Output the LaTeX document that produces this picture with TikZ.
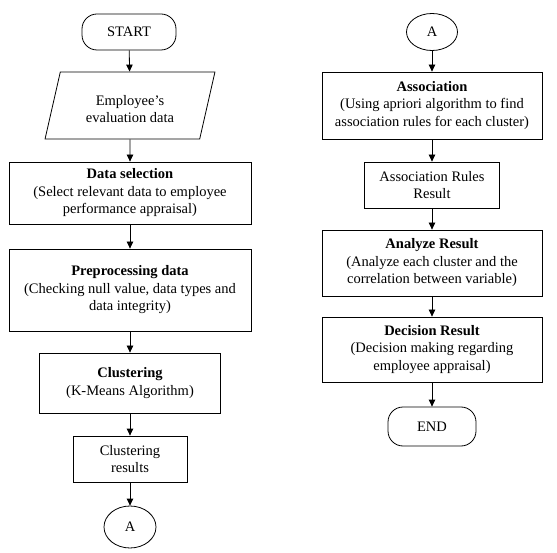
\documentclass[tikz,border=0pt]{standalone}
\usepackage{fontspec}
\setmainfont{Liberation Serif}
\usetikzlibrary{shapes.geometric,arrows.meta}
\begin{document}
\begin{tikzpicture}[x=1pt,y=1pt,
  every node/.style={font=\fontsize{14.5}{17.5}\selectfont, align=center, inner sep=2pt},
  box/.style={draw, line width=0.8pt, rectangle},
  term/.style={draw, line width=0.8pt, rectangle, rounded corners=15pt},
  conn/.style={draw, line width=0.8pt, ellipse, inner sep=0pt},
  io/.style={draw, line width=0.8pt, trapezium, trapezium left angle=75, trapezium right angle=105, trapezium stretches=true},
  flow/.style={line width=0.8pt, -{Triangle[length=7pt,width=6.5pt]}}
]
\useasboundingbox (0,0) rectangle (557,-553);
% left column
\node[term, minimum width=94pt, minimum height=36pt] (start) at (129,-32) {START};
\node[io, minimum width=170pt, minimum height=67pt] (data) at (130,-105.5) {\rule{0pt}{17pt}Employee’s\\[-1pt]evaluation data};
\node[box, minimum width=242pt, minimum height=62pt] (dsel) at (130,-193) {\textbf{Data selection}\\(Select relevant data to employee\\performance appraisal)};
\node[box, minimum width=242pt, minimum height=82pt] (prep) at (130,-290) {\textbf{Preprocessing data}\\(Checking null value, data types and\\data integrity)};
\node[box, minimum width=181pt, minimum height=60pt] (clus) at (130,-383) {\textbf{Clustering}\\(K-Means Algorithm)};
\node[box, minimum width=114pt, minimum height=46pt] (cres) at (130,-459) {Clustering\\results};
\node[conn, minimum width=52pt, minimum height=42pt] (a1) at (130,-527) {A};
% right column
\node[conn, minimum width=51pt, minimum height=37pt] (a2) at (432,-32) {A};
\node[box, minimum width=220pt, minimum height=67pt] (assoc) at (432,-105.5) {\textbf{Association}\\(Using apriori algorithm to find\\association rules for each cluster)};
\node[box, minimum width=135pt, minimum height=46pt] (arr) at (432,-185) {Association Rules\\Result};
\node[box, minimum width=220pt, minimum height=66pt] (anal) at (432,-263) {\textbf{Analyze Result}\\(Analyze each cluster and the\\correlation between variable)};
\node[box, minimum width=220pt, minimum height=65pt] (dec) at (432,-349.5) {\textbf{Decision Result}\\(Decision making regarding\\employee appraisal)};
\node[term, minimum width=88pt, minimum height=39pt] (end) at (432,-426.5) {END};
% connectors
\draw[flow] (start) -- (data);
\draw[flow] (data) -- (dsel);
\draw[flow] (dsel) -- (prep);
\draw[flow] (prep) -- (clus);
\draw[flow] (clus) -- (cres);
\draw[flow] (cres) -- (a1);
\draw[flow] (a2) -- (assoc);
\draw[flow] (assoc) -- (arr);
\draw[flow] (arr) -- (anal);
\draw[flow] (anal) -- (dec);
\draw[flow] (dec) -- (end);
\end{tikzpicture}
\end{document}
